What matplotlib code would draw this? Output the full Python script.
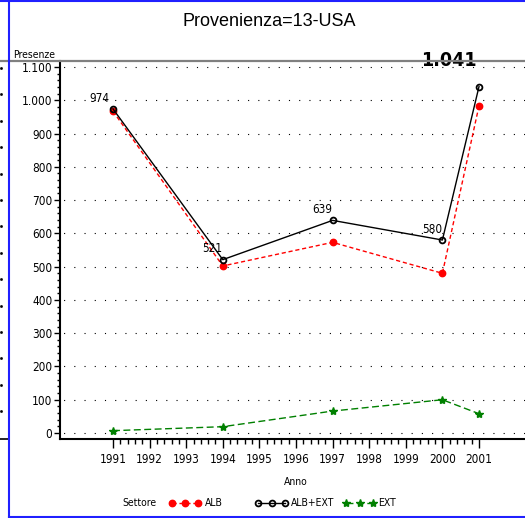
import matplotlib
matplotlib.use('Agg')
import matplotlib.pyplot as plt
from matplotlib.lines import Line2D
from matplotlib.ticker import FuncFormatter, FixedLocator

# ---- data ----
years = [1991, 1994, 1997, 2000, 2001]
alb = [967, 502, 573, 480, 983]
alb_ext = [974, 521, 639, 580, 1041]
ext = [7, 19, 66, 100, 58]
series_names = ['ALB', 'ALB+EXT', 'EXT']
x_ticks = list(range(1991, 2002))
y_ticks = list(range(0, 1101, 100))
title = 'Provenienza=13-USA'

plt.rcParams['font.family'] = ['DejaVu Sans']
plt.rcParams['font.stretch'] = 'condensed'

W, H = 525, 518
fig = plt.figure(figsize=(W / 100, H / 100), dpi=100)


def fx(px):
    return px / W


def fy(py):
    return 1 - py / H


ax = fig.add_axes([fx(60), fy(439), fx(465), (439 - 61) / H])
ax.set_xlim(1989.552, 2002.257)
ax.set_ylim(-18, 1118)

# grid lines (dotted)
for yv in y_ticks:
    ax.axhline(yv, color='black', lw=0.8, linestyle=(6, (1, 8.2)), zorder=1)

styles = {
    'ALB': dict(color='#ff0000', linestyle=(0, (3, 2)), lw=1.0, marker='o',
                markersize=4.6, markerfacecolor='#ff0000', markeredgecolor='#ff0000'),
    'ALB+EXT': dict(color='black', linestyle='-', lw=1.0, marker='o',
                    markersize=4.2, markerfacecolor='none', markeredgecolor='black',
                    markeredgewidth=1.3),
    'EXT': dict(color='#008000', linestyle=(0, (5, 2.5)), lw=1.0, marker='*',
                markersize=6, markerfacecolor='#008000', markeredgecolor='#008000'),
}
values = {'ALB': alb, 'ALB+EXT': alb_ext, 'EXT': ext}
for name in ['ALB', 'ALB+EXT', 'EXT']:
    ax.plot(years, values[name], zorder=3, **styles[name])

# point labels on ALB+EXT
for i in range(4):
    dx = -2.5 if i == 0 else 0
    ax.annotate(f'{alb_ext[i]}', (years[i], alb_ext[i]), xytext=(dx, 3),
                textcoords='offset points', ha='right', va='bottom',
                fontsize=8.5)
last = alb_ext[-1]
ax.text(0.8366, 1.0, f'{last // 1000}.{last % 1000:03d}', transform=ax.transAxes,
        ha='center', va='center', fontsize=14, fontweight='bold', zorder=5)

# spines
for s in ['top', 'right']:
    ax.spines[s].set_visible(False)
ax.spines['left'].set_linewidth(1.5)
ax.spines['bottom'].set_linewidth(1.5)

ax.set_yticks(y_ticks)
ax.yaxis.set_minor_locator(FixedLocator(list(range(0, 1101, 20))))
ax.yaxis.set_major_formatter(FuncFormatter(
    lambda v, p: f'{int(v) // 1000}.{int(v) % 1000:03d}' if v >= 1000 else f'{int(v)}'))
ax.set_xticks(x_ticks)
ax.xaxis.set_minor_locator(FixedLocator([1991 + k * 0.2 for k in range(51)]))
ax.xaxis.set_major_formatter(FuncFormatter(lambda v, p: f'{int(round(v))}'))
ax.tick_params(axis='y', which='major', length=4, width=1, pad=1.5, labelsize=8.5)
ax.tick_params(axis='y', which='minor', length=2.2, width=1)
ax.tick_params(axis='x', which='major', length=6.5, width=1, pad=3.5, labelsize=8.5)
ax.tick_params(axis='x', which='minor', length=3.8, width=1)

# axis titles
fig.text(fx(55), fy(55), 'Presenze', ha='right', va='center', fontsize=7.5)
fig.text(fx(296), fy(482), 'Anno', ha='center', va='center', fontsize=7.5)

# title
fig.text(fx(269), fy(21), title, ha='center', va='center', fontsize=13,
         family=['Liberation Sans', 'DejaVu Sans'], fontstretch='normal')

# legend
ly = fy(503)
fig.text(fx(139), ly, 'Settore', ha='center', va='center', fontsize=7.5)
handle_x = {'ALB': (172, 198), 'ALB+EXT': (258, 285), 'EXT': (346, 373)}
text_x = {'ALB': 205, 'ALB+EXT': 291, 'EXT': 378}
for name in series_names:
    a, b = handle_x[name]
    ln = Line2D([fx(a), fx((a + b) / 2), fx(b)], [ly, ly, ly],
                transform=fig.transFigure, **styles[name])
    fig.add_artist(ln)
    fig.text(fx(text_x[name]), ly, name, ha='left', va='center', fontsize=7.5)

# frame decorations
fig.add_artist(Line2D([0, 1], [fy(61), fy(61)], transform=fig.transFigure,
                      color='#808080', lw=1.6))
fig.add_artist(Line2D([0, fx(8.5)], [fy(439), fy(439)], transform=fig.transFigure,
                      color='black', lw=1.2))
for k in range(14):
    fig.add_artist(Line2D([fx(1)], [fy(68 + 26.4 * k)], transform=fig.transFigure,
                          marker='s', markersize=0.9, color='black', lw=0))
blue = '#2020ff'
fig.add_artist(Line2D([fx(8.5), fx(8.5)], [0, 1], transform=fig.transFigure,
                      color=blue, lw=1.5))
fig.add_artist(Line2D([0, 1], [fy(0.7), fy(0.7)], transform=fig.transFigure,
                      color=blue, lw=1.5))
fig.add_artist(Line2D([fx(8.5), 1], [fy(517.3), fy(517.3)], transform=fig.transFigure,
                      color=blue, lw=1.5))

fig.savefig('out.png', dpi=100)
